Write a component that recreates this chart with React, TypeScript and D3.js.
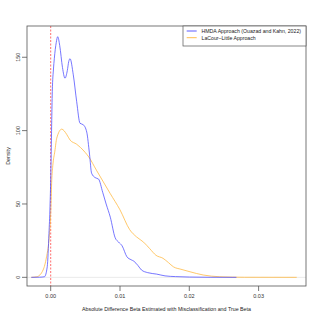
import React from "react";
import * as d3 from "d3";

const blueX = [-0.0028,-0.0016,-0.0009,-0.0005,-0.00025,-0.0001,0.0,0.00014,0.00023,0.0004,0.00052,0.0008,0.00101,0.0013,0.0017,0.00206,0.0024,0.0026,0.00279,0.00326,0.00375,0.00423,0.0047,0.0052,0.0056,0.0059,0.0064,0.0069,0.0075,0.008,0.0086,0.0093,0.0098,0.0103,0.011,0.0116,0.012,0.0126,0.0131,0.014,0.0153,0.0165,0.018,0.02,0.023,0.0268];
const blueY = [0,0.1,0.4,7.2,30,48,66,104,126.5,142,149,160,164,158,143,135.7,141,147,149,138,119.7,105,104,99,84,71,68,67,58,50,41,27,24,21.5,14,12,11,8,5,3.2,2.2,1.0,0.5,0.2,0.05,0];
const orangeX = [-0.0028,-0.002,-0.0011,-0.0006,-0.00025,0.0,0.00015,0.0003,0.0006,0.00087,0.00159,0.0023,0.00279,0.00375,0.0043,0.005,0.0055,0.0066,0.0076,0.0086,0.01,0.0114,0.0124,0.0134,0.0143,0.0152,0.0162,0.017,0.0177,0.0188,0.0201,0.022,0.0244,0.028,0.0355];
const orangeY = [0,0.4,5,14,25.4,44,66,76,86,94.8,101,97.5,93.6,90.7,88.5,85,82,73,65,57,46,32.5,27.5,24,19.5,15,13,10,7.2,5.5,3.8,1.6,0.4,0.05,0];

const xTicks = [0, 0.01, 0.02, 0.03];
const yTicks = [0, 50, 100, 150];
const legendLabels = ["HMDA Approach (Ouazad and Kahn, 2022)", "LaCour\u2013Little Approach"];
const seriesColors = ["#4a4aff", "#ffb53a"];
const xTitle = "Absolute Difference Beta Estimated with Misclassification and True Beta";
const yTitle = "Density";

export default function App() {
  const L = 27, R = 306, T = 26, B = 286;
  const x = d3.scaleLinear().domain([-0.00342, 0.03684]).range([L, R]);
  const y = d3.scaleLinear().domain([-5.9, 171.3]).range([B, T]);
  const line = d3.line<[number, number]>().x(d => x(d[0])).y(d => y(d[1])).curve(d3.curveMonotoneX);
  const blue = line(blueX.map((v, i) => [v, blueY[i]] as [number, number])) || "";
  const orange = line(orangeX.map((v, i) => [v, orangeY[i]] as [number, number])) || "";
  const font = "Liberation Sans, Arial, sans-serif";
  return (
    <div style={{ position: "fixed", left: 0, top: 0 }}>
      <svg width={320} height={320} style={{ display: "block", background: "#fff" }} fontFamily={font}>
        <line x1={L} x2={R} y1={y(0)} y2={y(0)} stroke="#e3e3e3" strokeWidth={0.8} />
        <line x1={x(0)} x2={x(0)} y1={T} y2={B} stroke="#ff3030" strokeWidth={0.7} strokeDasharray="2,1.5" />
        <path d={orange} fill="none" stroke={seriesColors[1]} strokeWidth={0.75} />
        <path d={blue} fill="none" stroke={seriesColors[0]} strokeWidth={0.75} />
        <rect x={L} y={T} width={R - L} height={B - T} fill="none" stroke="#555" strokeWidth={0.8} />
        {xTicks.map(t => (
          <g key={t}>
            <line x1={x(t)} x2={x(t)} y1={B} y2={B + 5} stroke="#555" strokeWidth={0.8} />
            <text x={x(t)} y={298} fontSize={5.5} textAnchor="middle" fill="#333">{t.toFixed(2)}</text>
          </g>
        ))}
        {yTicks.map(t => (
          <g key={t}>
            <line x1={L - 5} x2={L} y1={y(t)} y2={y(t)} stroke="#555" strokeWidth={0.8} />
            <text transform={`translate(19.5,${y(t)}) rotate(-90)`} fontSize={5.5} textAnchor="middle" fill="#333">{t}</text>
          </g>
        ))}
        <text x={(L + R) / 2} y={310.5} fontSize={5.3} textAnchor="middle" fill="#222">{xTitle}</text>
        <text transform={`translate(9.5,${(T + B) / 2}) rotate(-90)`} fontSize={5.3} textAnchor="middle" fill="#222">{yTitle}</text>
        <rect x={183} y={T} width={R - 183} height={20} fill="#fff" stroke="#555" strokeWidth={0.7} />
        {legendLabels.map((lab, i) => (
          <g key={lab}>
            <line x1={186.7} x2={196.7} y1={31 + i * 6.7} y2={31 + i * 6.7} stroke={seriesColors[i]} strokeWidth={0.9} />
            <text x={201.5} y={31 + i * 6.7 + 1.8} fontSize={5.2} fill="#222">{lab}</text>
          </g>
        ))}
      </svg>
    </div>
  );
}
